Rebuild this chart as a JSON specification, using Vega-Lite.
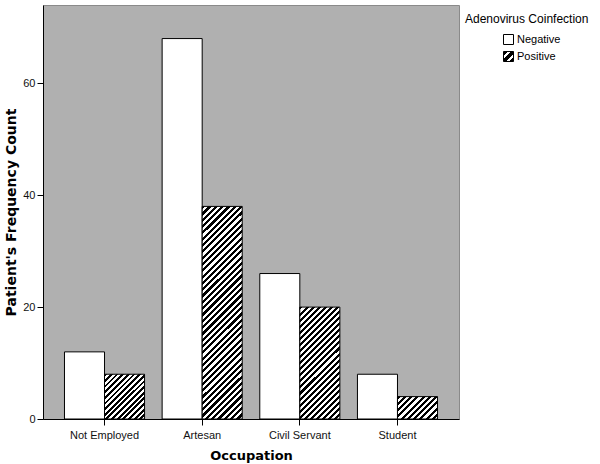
{
  "$schema": "https://vega.github.io/schema/vega-lite/v6.json",
  "autosize": "none",
  "width": 416,
  "height": 414,
  "padding": {"left": 43, "top": 5, "right": 141, "bottom": 45},
  "background": "#ffffff",
  "config": {
    "view": {"fill": "#b0b0b0", "stroke": "#8a8a8a", "strokeWidth": 1},
    "axis": {
      "grid": false,
      "domainColor": "#000",
      "tickColor": "#000",
      "tickSize": 6,
      "labelFont": "Liberation Sans",
      "labelFontSize": 11,
      "labelColor": "#111",
      "titleFont": "DejaVu Sans",
      "titleFontSize": 13,
      "titleFontWeight": "bold",
      "titleColor": "#000"
    }
  },
  "data": {
    "values": [
      {"occ": "Not Employed", "inf": "Negative", "count": 12},
      {"occ": "Not Employed", "inf": "Positive", "count": 8},
      {"occ": "Artesan", "inf": "Negative", "count": 68},
      {"occ": "Artesan", "inf": "Positive", "count": 38},
      {"occ": "Civil Servant", "inf": "Negative", "count": 26},
      {"occ": "Civil Servant", "inf": "Positive", "count": 20},
      {"occ": "Student", "inf": "Negative", "count": 8},
      {"occ": "Student", "inf": "Positive", "count": 4}
    ]
  },
  "mark": {"type": "bar", "stroke": "#000", "strokeWidth": 1},
  "encoding": {
    "x": {
      "field": "occ", "type": "nominal",
      "sort": ["Not Employed", "Artesan", "Civil Servant", "Student"],
      "scale": {"paddingInner": 0.18, "paddingOuter": 0.22},
      "axis": {"title": "Occupation", "labelAngle": 0, "labelPadding": 4, "titlePadding": 9}
    },
    "xOffset": {
      "field": "inf", "type": "nominal",
      "sort": ["Negative", "Positive"],
      "scale": {"paddingInner": 0, "paddingOuter": 0}
    },
    "y": {
      "field": "count", "type": "quantitative",
      "scale": {"domain": [0, 74], "nice": false, "zero": true},
      "axis": {"title": "Patient's Frequency Count", "values": [0, 20, 40, 60], "labelPadding": 2, "titlePadding": 4, "titleFontSize": 14}
    },
    "opacity": {
      "field": "inf", "type": "nominal",
      "scale": {"domain": ["Negative", "Positive"], "range": [1, 1]},
      "legend": {
        "orient": "none",
        "legendX": 422,
        "legendY": 9,
        "padding": 0,
        "title": "Adenovirus Coinfection",
        "titleFont": "Liberation Sans",
        "titleFontSize": 12,
        "titleFontWeight": "normal",
        "titleColor": "#000",
        "titlePadding": 8,
        "labelFont": "Liberation Sans",
        "labelFontSize": 11,
        "labelColor": "#000",
        "labelOffset": 3,
        "symbolType": "square",
        "symbolSize": 100,
        "symbolStrokeColor": "#000",
        "symbolStrokeWidth": 1,
        "symbolOffset": 38,
        "rowPadding": 2,
        "encoding": {
          "symbols": {
            "stroke": {"value": "#000"},
            "strokeWidth": {"value": 1},
            "fill": {
              "condition": {"test": "datum.value === 'Positive'", "value": {"gradient": "linear", "x1": 0, "y1": 0, "x2": 1, "y2": 1, "stops": [
{"offset":0,"color":"#000"},{"offset":0.22,"color":"#000"},{"offset":0.22,"color":"#fff"},{"offset":0.38,"color":"#fff"},
{"offset":0.38,"color":"#000"},{"offset":0.62,"color":"#000"},{"offset":0.62,"color":"#fff"},{"offset":0.78,"color":"#fff"},
{"offset":0.78,"color":"#000"},{"offset":1,"color":"#000"}
              ]}},
              "value": "#ffffff"
            }
          }
        }
      }
    },
    "fill": {
      "condition": [
        {"test": "datum.occ == 'Not Employed' && datum.inf == 'Positive'",
         "value": {"gradient": "linear", "x1": 0, "y1": 0, "x2": 0.9404, "y2": 1.0532, "stops": [
{"offset":0,"color":"#000"},{"offset":0.0333,"color":"#000"},{"offset":0.0333,"color":"#fff"},{"offset":0.0667,"color":"#fff"},
{"offset":0.0667,"color":"#000"},{"offset":0.1,"color":"#000"},{"offset":0.1,"color":"#fff"},{"offset":0.1333,"color":"#fff"},
{"offset":0.1333,"color":"#000"},{"offset":0.1667,"color":"#000"},{"offset":0.1667,"color":"#fff"},{"offset":0.2,"color":"#fff"},
{"offset":0.2,"color":"#000"},{"offset":0.2333,"color":"#000"},{"offset":0.2333,"color":"#fff"},{"offset":0.2667,"color":"#fff"},
{"offset":0.2667,"color":"#000"},{"offset":0.3,"color":"#000"},{"offset":0.3,"color":"#fff"},{"offset":0.3333,"color":"#fff"},
{"offset":0.3333,"color":"#000"},{"offset":0.3667,"color":"#000"},{"offset":0.3667,"color":"#fff"},{"offset":0.4,"color":"#fff"},
{"offset":0.4,"color":"#000"},{"offset":0.4333,"color":"#000"},{"offset":0.4333,"color":"#fff"},{"offset":0.4667,"color":"#fff"},
{"offset":0.4667,"color":"#000"},{"offset":0.5,"color":"#000"},{"offset":0.5,"color":"#fff"},{"offset":0.5333,"color":"#fff"},
{"offset":0.5333,"color":"#000"},{"offset":0.5667,"color":"#000"},{"offset":0.5667,"color":"#fff"},{"offset":0.6,"color":"#fff"},
{"offset":0.6,"color":"#000"},{"offset":0.6333,"color":"#000"},{"offset":0.6333,"color":"#fff"},{"offset":0.6667,"color":"#fff"},
{"offset":0.6667,"color":"#000"},{"offset":0.7,"color":"#000"},{"offset":0.7,"color":"#fff"},{"offset":0.7333,"color":"#fff"},
{"offset":0.7333,"color":"#000"},{"offset":0.7667,"color":"#000"},{"offset":0.7667,"color":"#fff"},{"offset":0.8,"color":"#fff"},
{"offset":0.8,"color":"#000"},{"offset":0.8333,"color":"#000"},{"offset":0.8333,"color":"#fff"},{"offset":0.8667,"color":"#fff"},
{"offset":0.8667,"color":"#000"},{"offset":0.9,"color":"#000"},{"offset":0.9,"color":"#fff"},{"offset":0.9333,"color":"#fff"},
{"offset":0.9333,"color":"#000"},{"offset":0.9667,"color":"#000"},{"offset":0.9667,"color":"#fff"},{"offset":1,"color":"#fff"}
         ]}},
        {"test": "datum.occ == 'Artesan' && datum.inf == 'Positive'",
         "value": {"gradient": "linear", "x1": 0, "y1": 0, "x2": 0.2157, "y2": 1.1474, "stops": [
{"offset":0,"color":"#000"},{"offset":0.0125,"color":"#000"},{"offset":0.0125,"color":"#fff"},{"offset":0.025,"color":"#fff"},
{"offset":0.025,"color":"#000"},{"offset":0.0375,"color":"#000"},{"offset":0.0375,"color":"#fff"},{"offset":0.05,"color":"#fff"},
{"offset":0.05,"color":"#000"},{"offset":0.0625,"color":"#000"},{"offset":0.0625,"color":"#fff"},{"offset":0.075,"color":"#fff"},
{"offset":0.075,"color":"#000"},{"offset":0.0875,"color":"#000"},{"offset":0.0875,"color":"#fff"},{"offset":0.1,"color":"#fff"},
{"offset":0.1,"color":"#000"},{"offset":0.1125,"color":"#000"},{"offset":0.1125,"color":"#fff"},{"offset":0.125,"color":"#fff"},
{"offset":0.125,"color":"#000"},{"offset":0.1375,"color":"#000"},{"offset":0.1375,"color":"#fff"},{"offset":0.15,"color":"#fff"},
{"offset":0.15,"color":"#000"},{"offset":0.1625,"color":"#000"},{"offset":0.1625,"color":"#fff"},{"offset":0.175,"color":"#fff"},
{"offset":0.175,"color":"#000"},{"offset":0.1875,"color":"#000"},{"offset":0.1875,"color":"#fff"},{"offset":0.2,"color":"#fff"},
{"offset":0.2,"color":"#000"},{"offset":0.2125,"color":"#000"},{"offset":0.2125,"color":"#fff"},{"offset":0.225,"color":"#fff"},
{"offset":0.225,"color":"#000"},{"offset":0.2375,"color":"#000"},{"offset":0.2375,"color":"#fff"},{"offset":0.25,"color":"#fff"},
{"offset":0.25,"color":"#000"},{"offset":0.2625,"color":"#000"},{"offset":0.2625,"color":"#fff"},{"offset":0.275,"color":"#fff"},
{"offset":0.275,"color":"#000"},{"offset":0.2875,"color":"#000"},{"offset":0.2875,"color":"#fff"},{"offset":0.3,"color":"#fff"},
{"offset":0.3,"color":"#000"},{"offset":0.3125,"color":"#000"},{"offset":0.3125,"color":"#fff"},{"offset":0.325,"color":"#fff"},
{"offset":0.325,"color":"#000"},{"offset":0.3375,"color":"#000"},{"offset":0.3375,"color":"#fff"},{"offset":0.35,"color":"#fff"},
{"offset":0.35,"color":"#000"},{"offset":0.3625,"color":"#000"},{"offset":0.3625,"color":"#fff"},{"offset":0.375,"color":"#fff"},
{"offset":0.375,"color":"#000"},{"offset":0.3875,"color":"#000"},{"offset":0.3875,"color":"#fff"},{"offset":0.4,"color":"#fff"},
{"offset":0.4,"color":"#000"},{"offset":0.4125,"color":"#000"},{"offset":0.4125,"color":"#fff"},{"offset":0.425,"color":"#fff"},
{"offset":0.425,"color":"#000"},{"offset":0.4375,"color":"#000"},{"offset":0.4375,"color":"#fff"},{"offset":0.45,"color":"#fff"},
{"offset":0.45,"color":"#000"},{"offset":0.4625,"color":"#000"},{"offset":0.4625,"color":"#fff"},{"offset":0.475,"color":"#fff"},
{"offset":0.475,"color":"#000"},{"offset":0.4875,"color":"#000"},{"offset":0.4875,"color":"#fff"},{"offset":0.5,"color":"#fff"},
{"offset":0.5,"color":"#000"},{"offset":0.5125,"color":"#000"},{"offset":0.5125,"color":"#fff"},{"offset":0.525,"color":"#fff"},
{"offset":0.525,"color":"#000"},{"offset":0.5375,"color":"#000"},{"offset":0.5375,"color":"#fff"},{"offset":0.55,"color":"#fff"},
{"offset":0.55,"color":"#000"},{"offset":0.5625,"color":"#000"},{"offset":0.5625,"color":"#fff"},{"offset":0.575,"color":"#fff"},
{"offset":0.575,"color":"#000"},{"offset":0.5875,"color":"#000"},{"offset":0.5875,"color":"#fff"},{"offset":0.6,"color":"#fff"},
{"offset":0.6,"color":"#000"},{"offset":0.6125,"color":"#000"},{"offset":0.6125,"color":"#fff"},{"offset":0.625,"color":"#fff"},
{"offset":0.625,"color":"#000"},{"offset":0.6375,"color":"#000"},{"offset":0.6375,"color":"#fff"},{"offset":0.65,"color":"#fff"},
{"offset":0.65,"color":"#000"},{"offset":0.6625,"color":"#000"},{"offset":0.6625,"color":"#fff"},{"offset":0.675,"color":"#fff"},
{"offset":0.675,"color":"#000"},{"offset":0.6875,"color":"#000"},{"offset":0.6875,"color":"#fff"},{"offset":0.7,"color":"#fff"},
{"offset":0.7,"color":"#000"},{"offset":0.7125,"color":"#000"},{"offset":0.7125,"color":"#fff"},{"offset":0.725,"color":"#fff"},
{"offset":0.725,"color":"#000"},{"offset":0.7375,"color":"#000"},{"offset":0.7375,"color":"#fff"},{"offset":0.75,"color":"#fff"},
{"offset":0.75,"color":"#000"},{"offset":0.7625,"color":"#000"},{"offset":0.7625,"color":"#fff"},{"offset":0.775,"color":"#fff"},
{"offset":0.775,"color":"#000"},{"offset":0.7875,"color":"#000"},{"offset":0.7875,"color":"#fff"},{"offset":0.8,"color":"#fff"},
{"offset":0.8,"color":"#000"},{"offset":0.8125,"color":"#000"},{"offset":0.8125,"color":"#fff"},{"offset":0.825,"color":"#fff"},
{"offset":0.825,"color":"#000"},{"offset":0.8375,"color":"#000"},{"offset":0.8375,"color":"#fff"},{"offset":0.85,"color":"#fff"},
{"offset":0.85,"color":"#000"},{"offset":0.8625,"color":"#000"},{"offset":0.8625,"color":"#fff"},{"offset":0.875,"color":"#fff"},
{"offset":0.875,"color":"#000"},{"offset":0.8875,"color":"#000"},{"offset":0.8875,"color":"#fff"},{"offset":0.9,"color":"#fff"},
{"offset":0.9,"color":"#000"},{"offset":0.9125,"color":"#000"},{"offset":0.9125,"color":"#fff"},{"offset":0.925,"color":"#fff"},
{"offset":0.925,"color":"#000"},{"offset":0.9375,"color":"#000"},{"offset":0.9375,"color":"#fff"},{"offset":0.95,"color":"#fff"},
{"offset":0.95,"color":"#000"},{"offset":0.9625,"color":"#000"},{"offset":0.9625,"color":"#fff"},{"offset":0.975,"color":"#fff"},
{"offset":0.975,"color":"#000"},{"offset":0.9875,"color":"#000"},{"offset":0.9875,"color":"#fff"},{"offset":1,"color":"#fff"}
         ]}},
        {"test": "datum.occ == 'Civil Servant' && datum.inf == 'Positive'",
         "value": {"gradient": "linear", "x1": 0, "y1": 0, "x2": 0.4299, "y2": 1.2036, "stops": [
{"offset":0,"color":"#000"},{"offset":0.02,"color":"#000"},{"offset":0.02,"color":"#fff"},{"offset":0.04,"color":"#fff"},
{"offset":0.04,"color":"#000"},{"offset":0.06,"color":"#000"},{"offset":0.06,"color":"#fff"},{"offset":0.08,"color":"#fff"},
{"offset":0.08,"color":"#000"},{"offset":0.1,"color":"#000"},{"offset":0.1,"color":"#fff"},{"offset":0.12,"color":"#fff"},
{"offset":0.12,"color":"#000"},{"offset":0.14,"color":"#000"},{"offset":0.14,"color":"#fff"},{"offset":0.16,"color":"#fff"},
{"offset":0.16,"color":"#000"},{"offset":0.18,"color":"#000"},{"offset":0.18,"color":"#fff"},{"offset":0.2,"color":"#fff"},
{"offset":0.2,"color":"#000"},{"offset":0.22,"color":"#000"},{"offset":0.22,"color":"#fff"},{"offset":0.24,"color":"#fff"},
{"offset":0.24,"color":"#000"},{"offset":0.26,"color":"#000"},{"offset":0.26,"color":"#fff"},{"offset":0.28,"color":"#fff"},
{"offset":0.28,"color":"#000"},{"offset":0.3,"color":"#000"},{"offset":0.3,"color":"#fff"},{"offset":0.32,"color":"#fff"},
{"offset":0.32,"color":"#000"},{"offset":0.34,"color":"#000"},{"offset":0.34,"color":"#fff"},{"offset":0.36,"color":"#fff"},
{"offset":0.36,"color":"#000"},{"offset":0.38,"color":"#000"},{"offset":0.38,"color":"#fff"},{"offset":0.4,"color":"#fff"},
{"offset":0.4,"color":"#000"},{"offset":0.42,"color":"#000"},{"offset":0.42,"color":"#fff"},{"offset":0.44,"color":"#fff"},
{"offset":0.44,"color":"#000"},{"offset":0.46,"color":"#000"},{"offset":0.46,"color":"#fff"},{"offset":0.48,"color":"#fff"},
{"offset":0.48,"color":"#000"},{"offset":0.5,"color":"#000"},{"offset":0.5,"color":"#fff"},{"offset":0.52,"color":"#fff"},
{"offset":0.52,"color":"#000"},{"offset":0.54,"color":"#000"},{"offset":0.54,"color":"#fff"},{"offset":0.56,"color":"#fff"},
{"offset":0.56,"color":"#000"},{"offset":0.58,"color":"#000"},{"offset":0.58,"color":"#fff"},{"offset":0.6,"color":"#fff"},
{"offset":0.6,"color":"#000"},{"offset":0.62,"color":"#000"},{"offset":0.62,"color":"#fff"},{"offset":0.64,"color":"#fff"},
{"offset":0.64,"color":"#000"},{"offset":0.66,"color":"#000"},{"offset":0.66,"color":"#fff"},{"offset":0.68,"color":"#fff"},
{"offset":0.68,"color":"#000"},{"offset":0.7,"color":"#000"},{"offset":0.7,"color":"#fff"},{"offset":0.72,"color":"#fff"},
{"offset":0.72,"color":"#000"},{"offset":0.74,"color":"#000"},{"offset":0.74,"color":"#fff"},{"offset":0.76,"color":"#fff"},
{"offset":0.76,"color":"#000"},{"offset":0.78,"color":"#000"},{"offset":0.78,"color":"#fff"},{"offset":0.8,"color":"#fff"},
{"offset":0.8,"color":"#000"},{"offset":0.82,"color":"#000"},{"offset":0.82,"color":"#fff"},{"offset":0.84,"color":"#fff"},
{"offset":0.84,"color":"#000"},{"offset":0.86,"color":"#000"},{"offset":0.86,"color":"#fff"},{"offset":0.88,"color":"#fff"},
{"offset":0.88,"color":"#000"},{"offset":0.9,"color":"#000"},{"offset":0.9,"color":"#fff"},{"offset":0.92,"color":"#fff"},
{"offset":0.92,"color":"#000"},{"offset":0.94,"color":"#000"},{"offset":0.94,"color":"#fff"},{"offset":0.96,"color":"#fff"},
{"offset":0.96,"color":"#000"},{"offset":0.98,"color":"#000"},{"offset":0.98,"color":"#fff"},{"offset":1,"color":"#fff"}
         ]}},
        {"test": "datum.occ == 'Student' && datum.inf == 'Positive'",
         "value": {"gradient": "linear", "x1": 0, "y1": 0, "x2": 1.1876, "y2": 0.665, "stops": [
{"offset":0,"color":"#000"},{"offset":0.05,"color":"#000"},{"offset":0.05,"color":"#fff"},{"offset":0.1,"color":"#fff"},
{"offset":0.1,"color":"#000"},{"offset":0.15,"color":"#000"},{"offset":0.15,"color":"#fff"},{"offset":0.2,"color":"#fff"},
{"offset":0.2,"color":"#000"},{"offset":0.25,"color":"#000"},{"offset":0.25,"color":"#fff"},{"offset":0.3,"color":"#fff"},
{"offset":0.3,"color":"#000"},{"offset":0.35,"color":"#000"},{"offset":0.35,"color":"#fff"},{"offset":0.4,"color":"#fff"},
{"offset":0.4,"color":"#000"},{"offset":0.45,"color":"#000"},{"offset":0.45,"color":"#fff"},{"offset":0.5,"color":"#fff"},
{"offset":0.5,"color":"#000"},{"offset":0.55,"color":"#000"},{"offset":0.55,"color":"#fff"},{"offset":0.6,"color":"#fff"},
{"offset":0.6,"color":"#000"},{"offset":0.65,"color":"#000"},{"offset":0.65,"color":"#fff"},{"offset":0.7,"color":"#fff"},
{"offset":0.7,"color":"#000"},{"offset":0.75,"color":"#000"},{"offset":0.75,"color":"#fff"},{"offset":0.8,"color":"#fff"},
{"offset":0.8,"color":"#000"},{"offset":0.85,"color":"#000"},{"offset":0.85,"color":"#fff"},{"offset":0.9,"color":"#fff"},
{"offset":0.9,"color":"#000"},{"offset":0.95,"color":"#000"},{"offset":0.95,"color":"#fff"},{"offset":1,"color":"#fff"}
         ]}}
      ],
      "value": "#ffffff"
    }
  }
}
